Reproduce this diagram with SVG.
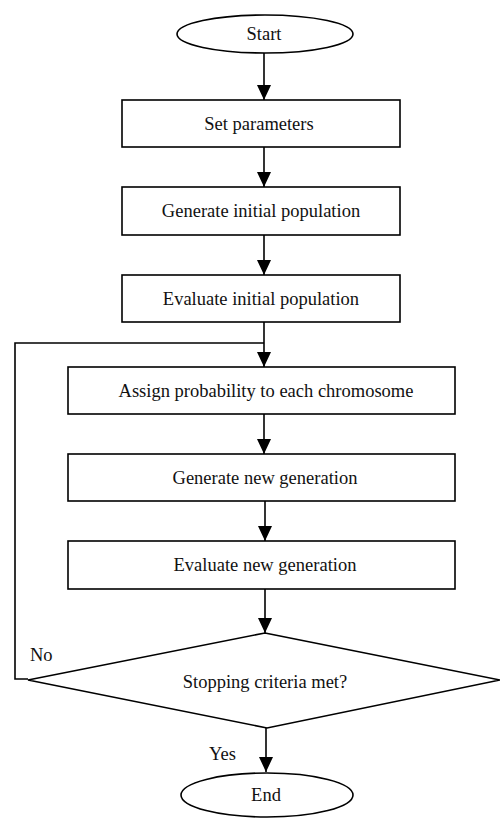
<svg xmlns="http://www.w3.org/2000/svg" width="500" height="818" viewBox="0 0 500 818">
<style>
.s{fill:#fff;stroke:#000;stroke-width:1.6}
.t{font-family:"Liberation Serif","Times New Roman",serif;font-size:18.5px;fill:#111;text-anchor:middle;dominant-baseline:central}
.l{font-family:"Liberation Serif","Times New Roman",serif;font-size:18.5px;fill:#111}
.c{fill:none;stroke:#000;stroke-width:1.6}
</style>
<defs>
<marker id="b" markerUnits="userSpaceOnUse" markerWidth="16" markerHeight="14" refX="15" refY="7" orient="auto" viewBox="0 0 16 14">
<path d="M0,0 L15,7 L0,14 Z" fill="#000"/>
</marker>
</defs>
<g id="connectors">
<line class="c" x1="264" y1="53" x2="264" y2="100" marker-end="url(#b)"/>
<line class="c" x1="264" y1="147" x2="264" y2="187" marker-end="url(#b)"/>
<line class="c" x1="264" y1="235" x2="264" y2="275" marker-end="url(#b)"/>
<line class="c" x1="264" y1="322" x2="264" y2="367" marker-end="url(#b)"/>
<line class="c" x1="264" y1="414" x2="264" y2="454" marker-end="url(#b)"/>
<line class="c" x1="265" y1="501" x2="265" y2="541" marker-end="url(#b)"/>
<line class="c" x1="265" y1="589" x2="265" y2="633" marker-end="url(#b)"/>
<line class="c" x1="266" y1="728" x2="266" y2="772" marker-end="url(#b)"/>
<polyline class="c" points="28,679 15,679 15,343 264,343"/>
<text class="l" x="30" y="661">No</text>
<text class="l" x="209" y="760">Yes</text>
</g>
<g id="start"><ellipse class="s" cx="265" cy="34" rx="88" ry="19"/><text class="t" x="264" y="34">Start</text></g>
<g id="set"><rect class="s" x="122" y="100" width="278" height="47"/><text class="t" x="259" y="124">Set parameters</text></g>
<g id="gen-init"><rect class="s" x="122" y="187" width="278" height="48"/><text class="t" x="261" y="211">Generate initial population</text></g>
<g id="eval-init"><rect class="s" x="122" y="275" width="278" height="47"/><text class="t" x="261" y="299">Evaluate initial population</text></g>
<g id="assign"><rect class="s" x="68" y="367" width="387" height="47"/><text class="t" x="266" y="391">Assign probability to each chromosome</text></g>
<g id="gen-new"><rect class="s" x="68" y="454" width="387" height="47"/><text class="t" x="265" y="478">Generate new generation</text></g>
<g id="eval-new"><rect class="s" x="68" y="541" width="387" height="48"/><text class="t" x="265" y="565">Evaluate new generation</text></g>
<g id="decision"><polygon class="s" points="265,633 500,680 267,728 28,680"/><text class="t" x="265" y="682">Stopping criteria met?</text></g>
<g id="end"><ellipse class="s" cx="267" cy="795" rx="86" ry="22"/><text class="t" x="266" y="795">End</text></g>
</svg>
